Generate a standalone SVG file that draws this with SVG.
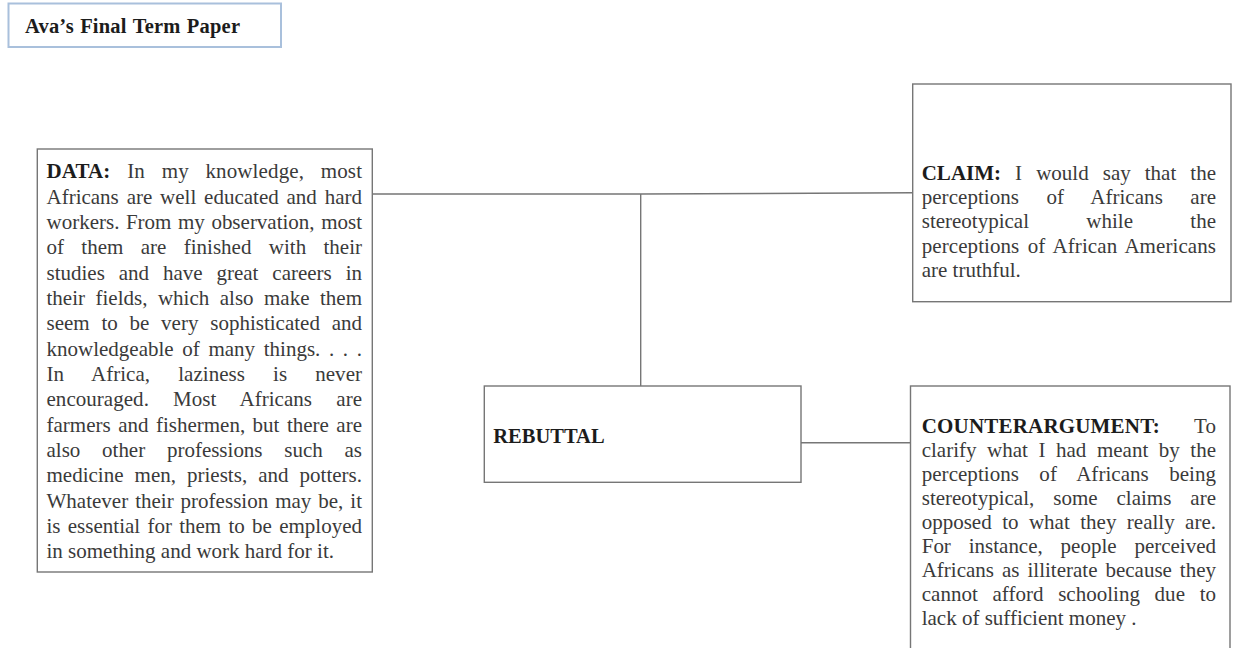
<svg xmlns="http://www.w3.org/2000/svg" width="1233" height="648" viewBox="0 0 1233 648">
  <style>
    .bg { fill: #ffffff; }
    .box { fill: #ffffff; stroke: #767676; stroke-width: 1.4; }
    .titlebox { fill: #ffffff; stroke: #a9c0dc; stroke-width: 2; }
    .link { fill: none; stroke: #767676; stroke-width: 1.4; }
    .body { font-family: "Liberation Serif", "Times New Roman", serif; font-size: 21px; fill: #3a3a3a; }
    .lbl { font-weight: bold; fill: #1c1c1c; }
    .head { font-family: "Liberation Serif", "Times New Roman", serif; font-size: 20.5px; font-weight: bold; fill: #1c1c1c; }
  </style>

  <rect class="bg" x="0" y="0" width="1233" height="648"/>

  <!-- title -->
  <g id="title">
    <rect class="titlebox" x="8.5" y="3.5" width="272.5" height="43.5"/>
    <text class="head" x="25" y="33" textLength="215" lengthAdjust="spacing" word-spacing="1">Ava’s Final Term Paper</text>
  </g>

  <!-- connectors -->
  <g id="connectors">
    <polyline class="link" points="373,194 640.7,194 913,192.8"/>
    <line class="link" x1="640.7" y1="194" x2="640.7" y2="386"/>
    <line class="link" x1="801" y1="442.7" x2="910.5" y2="442.7"/>
  </g>

  <!-- data -->
  <g id="data">
    <rect class="box" x="37.3" y="149" width="335" height="423"/>
    <g class="body">
      <text x="46.5" y="178.3" word-spacing="11.35" textLength="315.5" lengthAdjust="spacing"><tspan class="lbl">DATA:</tspan> In my knowledge, most</text>
      <text x="46.5" y="203.6" word-spacing="2.6" textLength="315.5" lengthAdjust="spacing">Africans are well educated and hard</text>
      <text x="46.5" y="229" word-spacing="1.3" textLength="315.5" lengthAdjust="spacing">workers. From my observation, most</text>
      <text x="46.5" y="254.3" word-spacing="12.1" textLength="315.5" lengthAdjust="spacing">of them are finished with their</text>
      <text x="46.5" y="279.6" word-spacing="8.6" textLength="315.5" lengthAdjust="spacing">studies and have great careers in</text>
      <text x="46.5" y="305" word-spacing="5.2" textLength="315.5" lengthAdjust="spacing">their fields, which also make them</text>
      <text x="46.5" y="330.3" word-spacing="6.5" textLength="315.5" lengthAdjust="spacing">seem to be very sophisticated and</text>
      <text x="46.5" y="355.6" word-spacing="3.4" textLength="315.5" lengthAdjust="spacing">knowledgeable of many things. . . .</text>
      <text x="46.5" y="381" word-spacing="22.75" textLength="315.5" lengthAdjust="spacing">In Africa, laziness is never</text>
      <text x="46.5" y="406.3" word-spacing="18.9" textLength="315.5" lengthAdjust="spacing">encouraged. Most Africans are</text>
      <text x="46.5" y="431.6" word-spacing="2.2" textLength="315.5" lengthAdjust="spacing">farmers and fishermen, but there are</text>
      <text x="46.5" y="457" word-spacing="16.5" textLength="315.5" lengthAdjust="spacing">also other professions such as</text>
      <text x="46.5" y="482.3" word-spacing="5.8" textLength="315.5" lengthAdjust="spacing">medicine men, priests, and potters.</text>
      <text x="46.5" y="507.6" word-spacing="1.7" textLength="315.5" lengthAdjust="spacing">Whatever their profession may be, it</text>
      <text x="46.5" y="533" word-spacing="2" textLength="315.5" lengthAdjust="spacing">is essential for them to be employed</text>
      <text x="46.5" y="558.3">in something and work hard for it.</text>
    </g>
  </g>

  <!-- claim -->
  <g id="claim">
    <rect class="box" x="912.7" y="84" width="318.3" height="217.7"/>
    <g class="body">
      <text x="921.7" y="180" word-spacing="8.8" textLength="294.3" lengthAdjust="spacing"><tspan class="lbl">CLAIM:</tspan> I would say that the</text>
      <text x="921.7" y="204.2" word-spacing="22.1" textLength="294.3" lengthAdjust="spacing">perceptions of Africans are</text>
      <text x="921.7" y="228.4" word-spacing="52.1" textLength="294.3" lengthAdjust="spacing">stereotypical while the</text>
      <text x="921.7" y="252.6" word-spacing="3" textLength="294.3" lengthAdjust="spacing">perceptions of African Americans</text>
      <text x="921.7" y="276.8">are truthful.</text>
    </g>
  </g>

  <!-- rebuttal -->
  <g id="rebuttal">
    <rect class="box" x="484.3" y="386" width="316.7" height="96.3"/>
    <text class="head" x="493.3" y="442.7">REBUTTAL</text>
  </g>

  <!-- counterargument -->
  <g id="counterargument">
    <rect class="box" x="910.5" y="386" width="319.5" height="280"/>
    <g class="body">
      <text x="921.7" y="433.3" word-spacing="28.9" textLength="294.3" lengthAdjust="spacing"><tspan class="lbl">COUNTERARGUMENT:</tspan> To</text>
      <text x="921.7" y="457.3" word-spacing="5.3" textLength="294.3" lengthAdjust="spacing">clarify what I had meant by the</text>
      <text x="921.7" y="481.3" word-spacing="15.1" textLength="294.3" lengthAdjust="spacing">perceptions of Africans being</text>
      <text x="921.7" y="505.3" word-spacing="13.7" textLength="294.3" lengthAdjust="spacing">stereotypical, some claims are</text>
      <text x="921.7" y="529.3" word-spacing="5.2" textLength="294.3" lengthAdjust="spacing">opposed to what they really are.</text>
      <text x="921.7" y="553.3" word-spacing="12.6" textLength="294.3" lengthAdjust="spacing">For instance, people perceived</text>
      <text x="921.7" y="577.3" word-spacing="2.7" textLength="294.3" lengthAdjust="spacing">Africans as illiterate because they</text>
      <text x="921.7" y="601.3" word-spacing="9.4" textLength="294.3" lengthAdjust="spacing">cannot afford schooling due to</text>
      <text x="921.7" y="625.3">lack of sufficient money .</text>
    </g>
  </g>
</svg>
